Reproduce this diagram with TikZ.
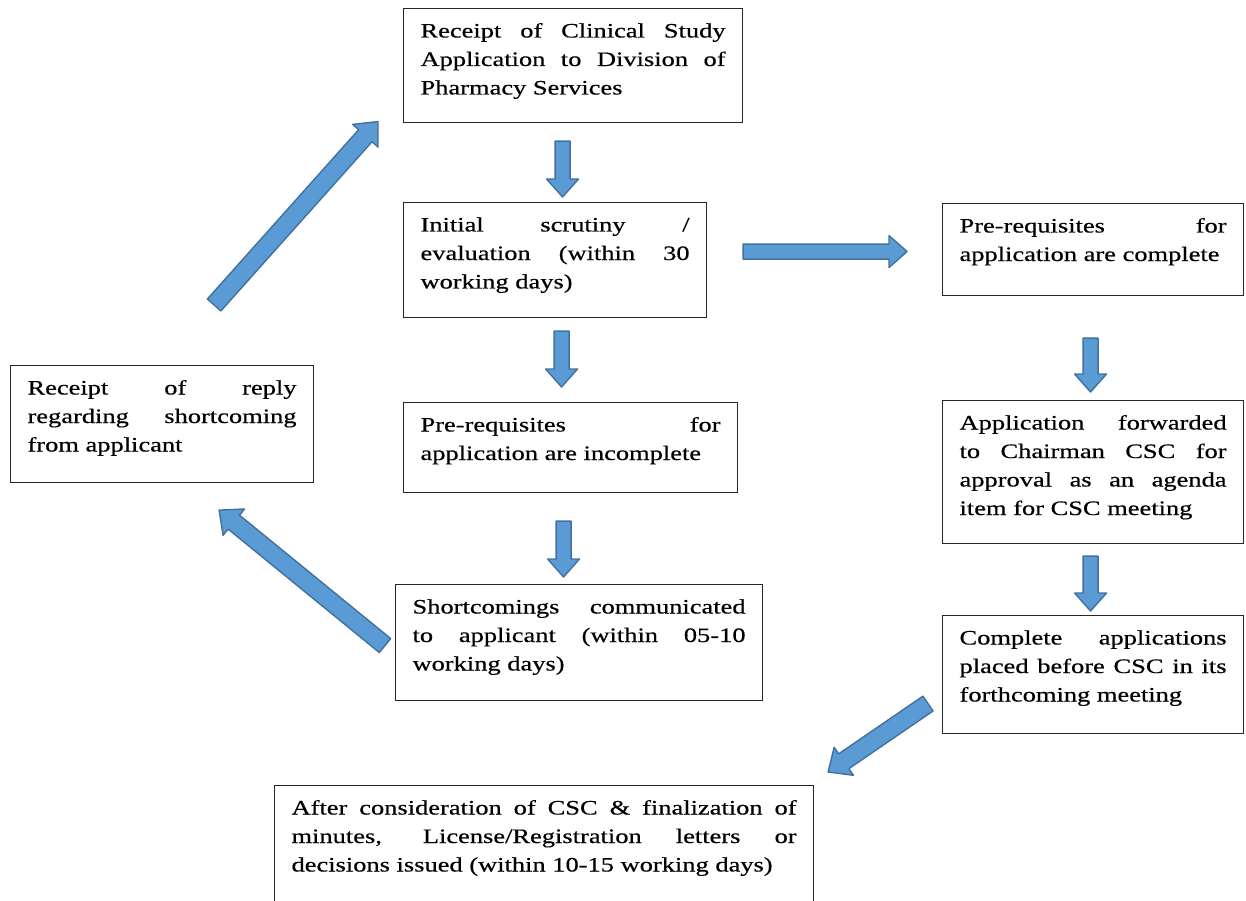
\documentclass[tikz,border=0pt]{standalone}
\usepackage{fontspec}
\setmainfont{Liberation Serif}[FakeStretch=1.29,FakeBold=0.5]
\usetikzlibrary{calc,positioning}
\definecolor{arrowfill}{HTML}{5B9BD5}
\definecolor{arrowline}{HTML}{41719C}
\hyphenpenalty=10000
\exhyphenpenalty=10000
\newcommand{\boxfont}{\fontsize{20.5pt}{28.5pt}\selectfont}
\newcommand{\boxtext}[3]{\parbox[t][#2][t]{#1}{\strut #3}}
\tikzset{
	x=1pt, y=-1pt,
	block/.style={draw=black!85, line width=1.1pt, anchor=north west, inner xsep=17pt, inner ysep=9pt, font=\boxfont},
	fat/.style={draw=arrowline, fill=arrowfill, line width=1.4pt, line join=round,
		to path={let \p1=(\tikztostart), \p2=(\tikztotarget) in
			($(\p1)!7.5pt!90:(\p2)$) -- ($(\p2)!18pt!(\p1)!7.5pt!90:(\p2)$) -- ($(\p2)!18pt!(\p1)!16pt!90:(\p2)$) -- (\p2)
			-- ($(\p2)!18pt!(\p1)!16pt!-90:(\p2)$) -- ($(\p2)!18pt!(\p1)!7.5pt!-90:(\p2)$) -- ($(\p1)!7.5pt!-90:(\p2)$) -- cycle}},
	wide/.style={fat, to path={let \p1=(\tikztostart), \p2=(\tikztotarget) in
			($(\p1)!9pt!90:(\p2)$) -- ($(\p2)!19pt!(\p1)!9pt!90:(\p2)$) -- ($(\p2)!19pt!(\p1)!17pt!90:(\p2)$) -- (\p2)
			-- ($(\p2)!19pt!(\p1)!17pt!-90:(\p2)$) -- ($(\p2)!19pt!(\p1)!9pt!-90:(\p2)$) -- ($(\p1)!9pt!-90:(\p2)$) -- cycle}}
}

\begin{document}
\begin{tikzpicture}
	\useasboundingbox (0,0) rectangle (1246,901);
	\clip (0,0) rectangle (1246,901);
	
	\node[block] (rcpt) at (403,8) {\boxtext{305pt}{96pt}{Receipt of Clinical Study\linebreak Application to Division of\linebreak Pharmacy Services}};
	\node[block] (scrut) at (403,202) {\boxtext{269pt}{97pt}{Initial scrutiny /\linebreak evaluation (within 30\linebreak working days)}};
	\node[block] (incompl) at (403,402) {\boxtext{300pt}{72pt}{Pre-requisites for\linebreak application are incomplete}};
	\node[block] (short) at (395,584) {\boxtext{333pt}{98pt}{Shortcomings communicated\linebreak to applicant (within 05-10\linebreak working days)}};
	\node[block] (reply) at (10,365) {\boxtext{269pt}{99pt}{Receipt of reply\linebreak regarding shortcoming\linebreak from applicant}};
	\node[block] (compl) at (942,203) {\boxtext{267pt}{74pt}{Pre-requisites for\linebreak application are complete}};
	\node[block] (fwd) at (942,400) {\boxtext{267pt}{125pt}{Application forwarded\linebreak to Chairman CSC for\linebreak approval as an agenda\linebreak item for CSC meeting}};
	\node[block] (place) at (942,615) {\boxtext{267pt}{100pt}{Complete applications\linebreak placed before CSC in its\linebreak forthcoming meeting}};
	\node[block] (final) at (274,785) {\boxtext{505pt}{120pt}{After consideration of CSC \& finalization of\linebreak minutes, License/Registration letters or\linebreak decisions issued (within 10-15 working days)}};
	
	\draw[fat] ([xshift=-10.5pt,yshift=-18pt]rcpt.south) to ([xshift=7.5pt,yshift=5pt]scrut.north);
	\draw[fat] ([xshift=6.5pt,yshift=-13pt]scrut.south) to ([xshift=-9pt,yshift=15pt]incompl.north);
	\draw[fat] ([xshift=-7pt,yshift=-28pt]incompl.south) to ([xshift=-15.5pt,yshift=7pt]short.north);
	\draw[fat] ([xshift=36pt,yshift=8.5pt]scrut.east) to ([xshift=-35pt,yshift=-2pt]compl.west);
	\draw[fat] ([xshift=-2.5pt,yshift=-42pt]compl.south) to ([xshift=-2.5pt,yshift=8pt]fwd.north);
	\draw[fat] ([xshift=-2.5pt,yshift=-12pt]fwd.south) to ([xshift=-2.5pt,yshift=4pt]place.north);
	\draw[wide] ([xshift=-14pt,yshift=-29pt]place.west) to ([xshift=14pt,yshift=13pt]final.north east);
	\draw[wide] ([xshift=-10pt,yshift=-3pt]short.west) to ([xshift=-95pt,yshift=-27pt]reply.south east);
	\draw[wide] ([xshift=-100pt,yshift=60pt]reply.north east) to ([xshift=-25pt,yshift=-56pt]rcpt.west);
\end{tikzpicture}
\end{document}
